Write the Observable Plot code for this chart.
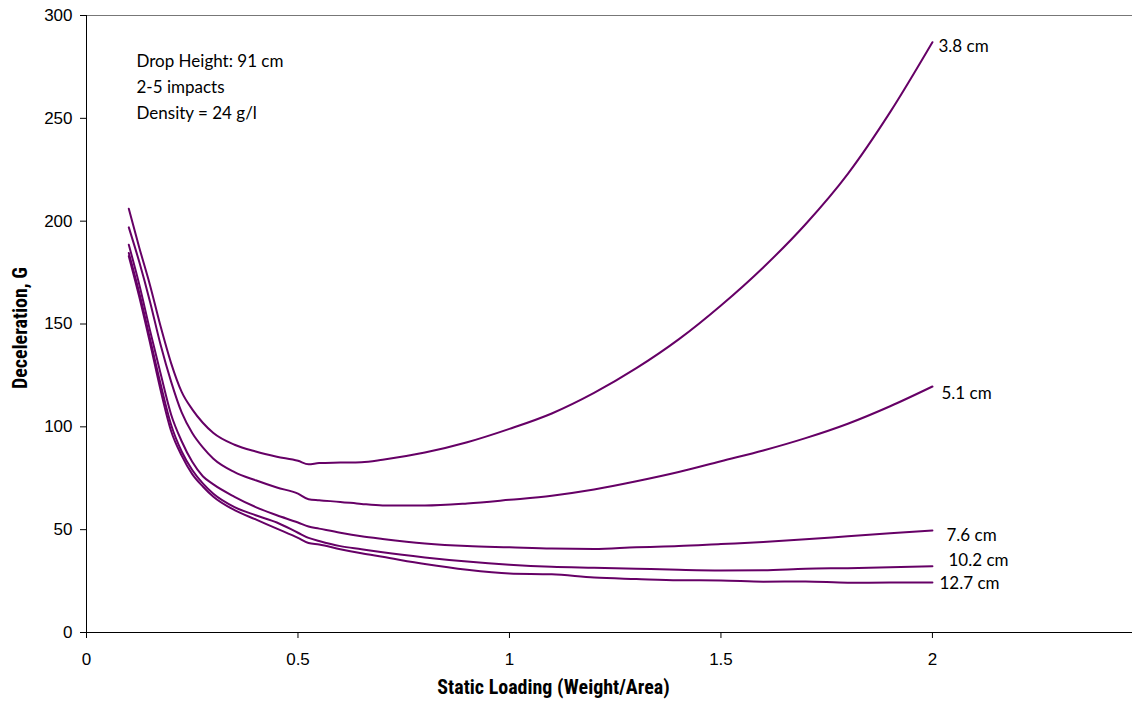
<!DOCTYPE html>
<html>
<head>
<meta charset="utf-8">
<script src="https://cdn.jsdelivr.net/npm/d3@7"></script>
<script src="https://cdn.jsdelivr.net/npm/@observablehq/plot@0.6"></script>
<style>
  html, body { margin: 0; padding: 0; background: #fff; }
  #chart svg { display: block; }
</style>
</head>
<body>
<div id="chart"></div>
<script>
// Static loading (x) shared by all series
const loading = [0.1,0.125,0.15,0.175,0.2,0.225,0.25,0.275,0.3,0.35,0.4,0.45,0.5,0.525,0.55,0.6,0.65,0.7,0.8,0.9,1.0,1.1,1.2,1.3,1.4,1.5,1.6,1.7,1.8,1.9,2.0];
// Deceleration (G) per cushion thickness
const g3_8  = [206,187,169,149,131,117,108.5,102,97,91.3,88,85.5,83.5,81.8,82.4,82.6,82.8,84,87.5,92.5,99,106.5,116.5,128.5,142.5,159,177.5,198.5,223,253,287];
const g5_1  = [197,180,161,140,122,107,97,90,84.5,78,74,70.5,67.5,64.8,64.3,63.5,62.5,61.8,61.7,62.7,64.5,66.5,69.5,73.5,78,83.3,88.5,94.5,101.5,110,119.6];
const g7_6  = [188.5,169,147,126,106,93,83,76,72,66,61,57,53.5,51.5,50.5,48.5,46.8,45.5,43.3,42,41.4,40.8,40.6,41.5,42,43,44,45.3,46.8,48.3,49.6];
const g10_2 = [184.5,165,143,121,101,88,79,72.5,67.5,61,57,53.5,48.5,46,44.5,42,40.5,39,36.5,34.5,33,32,31.5,31,30.5,30.2,30.3,31,31.3,31.7,32.2];
const g12_7 = [183,163,141,118,98,86,77,71,66,59.5,55,50.5,46,43.5,42.8,40.5,38.5,36.8,33.3,30.5,28.7,28.3,26.7,26,25.4,25.3,24.7,24.8,24.2,24.3,24.3];
const seriesNames = ["3.8 cm","5.1 cm","7.6 cm","10.2 cm","12.7 cm"];
const seriesValues = [g3_8, g5_1, g7_6, g10_2, g12_7];
// End-label vertical positions (G)
const labelG = [285, 116, 47, 35, 24];
const xTicks = [0, 0.5, 1, 1.5, 2];
const yTicks = [0, 50, 100, 150, 200, 250, 300];
const notes = ["Drop Height: 91 cm", "2-5 impacts", "Density = 24 g/l"];

const rows = [];
seriesNames.forEach((name, i) => {
  seriesValues[i].forEach((v, j) => rows.push({series: name, x: loading[j], g: v}));
});
const labelRows = seriesNames.map((name, i) => ({series: name, x: 2, g: labelG[i]}));
const labelDx = [6, 9, 14, 16, 7];

const color = "#660066";
const labelFont = "Lato, 'Open Sans', sans-serif";
const titleFont = "'Liberation Sans Narrow', 'Roboto Condensed', 'Liberation Sans', sans-serif";

const plot = Plot.plot({
  width: 1132,
  height: 715,
  marginLeft: 86,
  marginTop: 15,
  marginBottom: 83,
  marginRight: 0,
  style: {background: "#fff", fontFamily: "'Liberation Sans', Arial, sans-serif", fontSize: "16px", color: "#000"},
  x: {domain: [0, 2.473]},
  y: {domain: [0, 300]},
  marks: [
    Plot.ruleY([300], {stroke: "#777", strokeWidth: 1}),
    Plot.axisX({ticks: xTicks, tickSize: 6, tickPadding: 14, label: null, fontSize: 17, tickFormat: d => String(d)}),
    Plot.axisY({ticks: yTicks, tickSize: 6, tickPadding: 8, label: null, fontSize: 17}),
    Plot.ruleY([0], {stroke: "#000", strokeWidth: 1}),
    Plot.ruleX([0], {stroke: "#000", strokeWidth: 1}),
    Plot.line(rows, {x: "x", y: "g", z: "series", stroke: color, strokeWidth: 2, curve: "monotone-x"}),
    ...labelRows.map((r, i) => Plot.text([r], {x: "x", y: "g", text: "series", textAnchor: "start", dx: labelDx[i], fontSize: 17, fontFamily: labelFont})),
    ...notes.map((t, i) => Plot.text([t], {frameAnchor: "top-left", dx: 50, dy: 46 + 26 * i, textAnchor: "start", lineAnchor: "middle", fontSize: 17, fontFamily: labelFont})),
    Plot.text(["Static Loading (Weight/Area)"], {frameAnchor: "bottom", dx: -56, dy: 61, fontSize: 20, fontWeight: "bold", fontFamily: titleFont}),
    Plot.text(["Deceleration, G"], {frameAnchor: "left", textAnchor: "middle", dx: -66, dy: 4, rotate: -90, fontSize: 20, fontWeight: "bold", fontFamily: titleFont})
  ]
});
document.getElementById("chart").appendChild(plot);
</script>
</body>
</html>
